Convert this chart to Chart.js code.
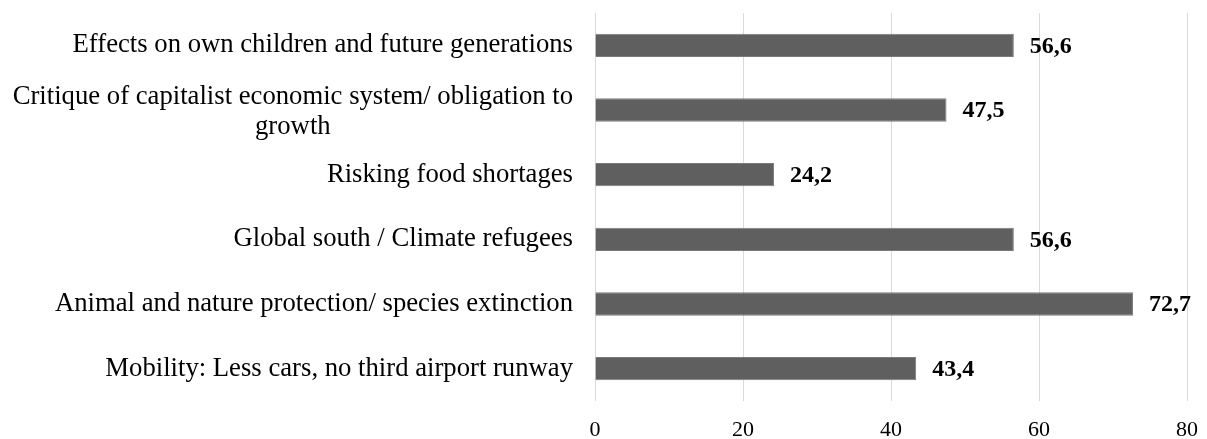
<!DOCTYPE html>
<html>
<head>
<meta charset="utf-8">
<script src="https://cdn.jsdelivr.net/npm/chart.js@4"></script>
<style>
  html, body { margin: 0; padding: 0; background: #ffffff; }
  #wrap { width: 1207px; height: 439px; }
</style>
</head>
<body>
<div id="wrap"><canvas id="chart" width="1207" height="439"></canvas></div>
<script>
// Category labels (top to bottom); multi-line labels are arrays of lines
const categories = [
  'Effects on own children and future generations',
  ['Critique of capitalist economic system/ obligation to', 'growth'],
  'Risking food shortages',
  'Global south / Climate refugees',
  'Animal and nature protection/ species extinction',
  'Mobility: Less cars, no third airport runway'
];
const shares = [56.6, 47.5, 24.2, 56.6, 72.7, 43.4];
const xTicks = [0, 20, 40, 60, 80];

const SERIF = '"Liberation Serif", "Times New Roman", serif';
const LABEL_SIZE = 26.7;
const TICK_SIZE = 22;
const VALUE_SIZE = 24;

const fmt = v => v.toFixed(1).replace('.', ',');

// Category labels: each block right-aligned to the axis, lines centred within the block
const categoryLabels = {
  id: 'categoryLabels',
  afterDraw(chart) {
    const ctx = chart.ctx;
    const y = chart.scales.y;
    const right = chart.chartArea.left - 22;
    const lh = 30;
    ctx.save();
    ctx.font = `${LABEL_SIZE}px ${SERIF}`;
    ctx.fillStyle = '#000000';
    ctx.textBaseline = 'middle';
    ctx.textAlign = 'center';
    categories.forEach((lab, i) => {
      const lines = Array.isArray(lab) ? lab : [lab];
      const w = Math.max(...lines.map(l => ctx.measureText(l).width));
      const cx = right - w / 2;
      const cy = y.getPixelForValue(i) + (lines.length > 1 ? 2 : 0);
      const top = cy - (lines.length - 1) * lh / 2;
      lines.forEach((l, k) => ctx.fillText(l, cx, top + k * lh));
    });
    ctx.restore();
  }
};

// Value labels at the end of each bar
const valueLabels = {
  id: 'valueLabels',
  afterDatasetsDraw(chart) {
    const ctx = chart.ctx;
    const meta = chart.getDatasetMeta(0);
    ctx.save();
    ctx.font = `bold ${VALUE_SIZE}px ${SERIF}`;
    ctx.fillStyle = '#000000';
    ctx.textBaseline = 'middle';
    ctx.textAlign = 'left';
    meta.data.forEach((bar, i) => {
      ctx.fillText(fmt(shares[i]), bar.x + 16, bar.y + 1);
    });
    ctx.restore();
  }
};

new Chart(document.getElementById('chart'), {
  type: 'bar',
  data: {
    labels: categories,
    datasets: [{
      data: shares,
      backgroundColor: '#5f5f5f',
      borderColor: '#7a7a7a',
      borderWidth: 1,
      barPercentage: 0.36,
      categoryPercentage: 1.0
    }]
  },
  options: {
    indexAxis: 'y',
    responsive: false,
    animation: false,
    layout: { padding: { top: 13, right: 20, left: 0, bottom: 0 } },
    plugins: { legend: { display: false }, tooltip: { enabled: false } },
    scales: {
      x: {
        min: 0, max: 80,
        afterBuildTicks: s => { s.ticks = xTicks.map(v => ({ value: v })); },
        afterFit: s => { s.height = 38; s.paddingLeft = 0; s.paddingRight = 0; },
        grid: { color: '#d9d9d9', lineWidth: 1, drawTicks: false },
        border: { display: false },
        ticks: {
          padding: 16,
          color: '#000000',
          font: { family: SERIF, size: TICK_SIZE }
        }
      },
      y: {
        afterFit: s => { s.width = 595; },
        grid: { display: false },
        border: { display: false },
        ticks: { display: false }
      }
    }
  },
  plugins: [categoryLabels, valueLabels]
});
</script>
</body>
</html>
